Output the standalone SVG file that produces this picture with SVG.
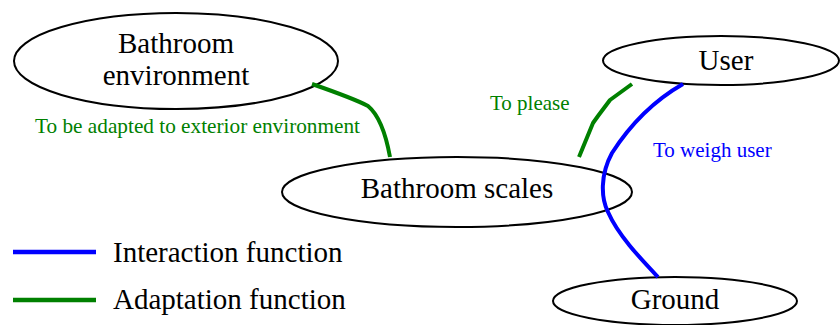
<svg xmlns="http://www.w3.org/2000/svg" width="840" height="325" viewBox="0 0 840 325">
<style>
.node ellipse{fill:#fff;stroke:#000;stroke-width:2}
.nt{font-size:29px;fill:#000;text-anchor:middle}
.lbl{font-size:21px}
.adapt{fill:none;stroke:#008000;stroke-width:4;stroke-linejoin:round;stroke-linecap:butt}
.inter{fill:none;stroke:#0000ff;stroke-width:4;stroke-linejoin:round;stroke-linecap:butt}
.legt{font-size:29px;fill:#000}
</style>
<rect width="840" height="325" fill="#fff"/>
<g font-family="'Liberation Serif', 'Times New Roman', serif">
<g id="node-bathroom-environment" class="node">
<ellipse cx="176" cy="61" rx="162" ry="48"/>
<text class="nt" x="176" y="53">Bathroom</text>
<text class="nt" x="176" y="85">environment</text>
</g>
<g id="node-bathroom-scales" class="node">
<ellipse cx="457" cy="192" rx="175" ry="35"/>
<text class="nt" x="457" y="198">Bathroom scales</text>
</g>
<g id="node-user" class="node">
<ellipse cx="721" cy="60.5" rx="118" ry="24.5"/>
<text class="nt" x="726" y="70">User</text>
</g>
<g id="node-ground" class="node">
<ellipse cx="675" cy="301" rx="122" ry="24"/>
<text class="nt" x="675" y="309">Ground</text>
</g>
<g id="connectors">
<path class="adapt" d="M312,84 C335,92 355,99 368,106 C380,116 386,135 390,157"/>
<path class="adapt" d="M579,157 L593,123 L598,116 L610,100 L632,84"/>
<path class="inter" d="M683,84 C655,100 630,125 612,153 C600,175 601,198 608,212 C618,235 640,258 658,277"/>
<text class="lbl" x="35" y="133" fill="#008000" textLength="325" lengthAdjust="spacingAndGlyphs">To be adapted to exterior environment</text>
<text class="lbl" x="490" y="110" fill="#008000">To please</text>
<text class="lbl" x="653" y="157" fill="#0000ff">To weigh user</text>
</g>
<g id="legend">
<line x1="13" y1="252" x2="96" y2="252" stroke="#0000ff" stroke-width="4.5"/>
<text class="legt" x="113" y="262">Interaction function</text>
<line x1="13" y1="300" x2="96" y2="300" stroke="#008000" stroke-width="4.5"/>
<text class="legt" x="113" y="309">Adaptation function</text>
</g>
</g>
</svg>
